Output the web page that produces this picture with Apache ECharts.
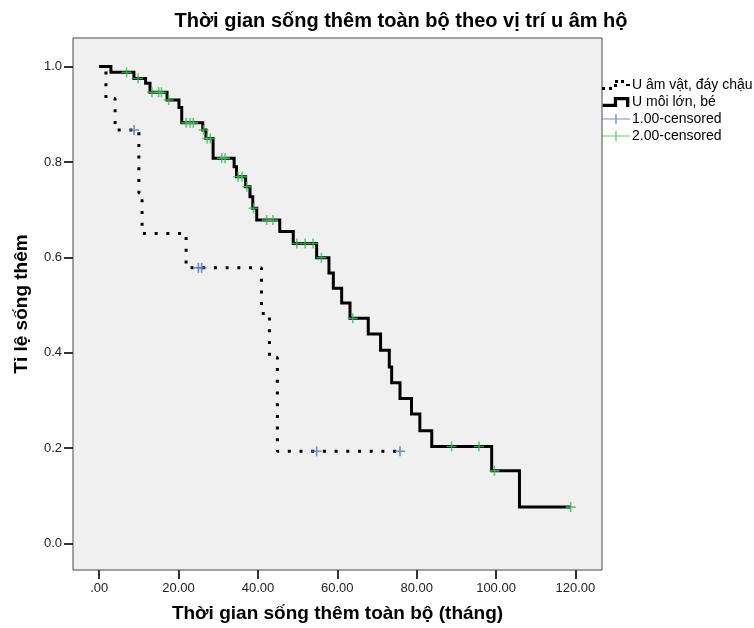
<!DOCTYPE html>
<html>
<head>
<meta charset="utf-8">
<title>Thời gian sống thêm toàn bộ theo vị trí u âm hộ</title>
<script src="https://cdn.jsdelivr.net/npm/echarts@6/dist/echarts.min.js"></script>
<style>
  html, body { margin: 0; padding: 0; background: #ffffff; }
  #chart { width: 754px; height: 628px; }
</style>
</head>
<body>
<div id="chart"></div>
<script>
// Kaplan–Meier curves: each entry is the time of a drop and the survival level after it.
const group1Name = 'U âm vật, đáy chậu';
const group1Times = [0, 1.7, 4.0, 10.0, 10.8, 21.9, 40.9, 42.9, 44.9, 75.8];
const group1Surv  = [1.0, 0.933, 0.867, 0.735, 0.650, 0.578, 0.482, 0.39, 0.193, 0.193];
const group1Censored = [8.8, 25.0, 25.8, 54.8, 75.8];

const group2Name = 'U môi lớn, bé';
const group2Times = [0, 2.95, 8.75, 11.7, 12.8, 17.1, 20.1, 20.8, 26.1, 26.9, 28.7, 34.0, 34.6,
  36.9, 38.0, 38.7, 39.7, 45.5, 48.9, 54.8, 57.9, 59.0, 61.1, 63.2, 67.8, 70.9, 73.1, 73.7,
  75.8, 78.7, 80.8, 83.8, 98.9, 105.9, 118.8];
const group2Surv  = [1.0, 0.988, 0.975, 0.965, 0.946, 0.930, 0.914, 0.882, 0.867, 0.849, 0.808, 0.790, 0.769,
  0.748, 0.727, 0.703, 0.678, 0.654, 0.629, 0.599, 0.567, 0.535, 0.504, 0.472, 0.439, 0.405, 0.370, 0.337,
  0.304, 0.271, 0.236, 0.203, 0.152, 0.076, 0.076];
const group2Censored = [6.9, 9.8, 13.3, 15.0, 15.7, 17.5, 21.9, 22.9, 23.7, 26.3, 27.2, 28.0, 30.9, 31.7,
  35.0, 36.0, 37.2, 38.9, 42.2, 43.8, 49.8, 51.9, 53.9, 56.0, 63.9, 88.8, 95.7, 99.6, 118.8];

const censor1Name = '1.00-censored';
const censor2Name = '2.00-censored';

const xTickValues = [0, 20, 40, 60, 80, 100, 120];
const xTickLabels = ['.00', '20.00', '40.00', '60.00', '80.00', '100.00', '120.00'];
const yTickValues = [0, 0.2, 0.4, 0.6, 0.8, 1.0];
const yTickLabels = ['0.0', '0.2', '0.4', '0.6', '0.8', '1.0'];

const FONT = '"Liberation Sans", Arial, sans-serif';

function pairs(times, vals) {
  return times.map((t, i) => [t, vals[i]]);
}
// survival level of a step curve at time t (censor marks sit on their curve)
function levelAt(times, vals, t) {
  let v = vals[0];
  for (let i = 0; i < times.length; i++) {
    if (times[i] <= t) v = vals[i];
  }
  return v;
}
function censorPoints(ct, times, vals) {
  return ct.map(t => [t, levelAt(times, vals, t)]);
}
function labelFor(values, labels) {
  return v => {
    for (let i = 0; i < values.length; i++) {
      if (Math.abs(values[i] - v) < 1e-9) return labels[i];
    }
    return '';
  };
}

const plusSymbol = 'path://M4.2,0h1.6v4.2h4.2v1.6h-4.2v4.2h-1.6v-4.2h-4.2v-1.6h4.2z';
const iconDotted = 'path://M0,7h3v3h-3z M7,7h3v3h-3z M12,4h3v3h-3z M13,0h3v3h-3z M19,0h3v3h-3z M24,4h4v2h-4z';
const iconSolid = 'path://M0,6H10V0H24V9H21V3H13V9H0Z';
const iconCensor = 'path://M0,4.4H13.3V0H14.7V4.4H28V5.6H14.7V10H13.3V5.6H0Z';

const chart = echarts.init(document.getElementById('chart'), null, { renderer: 'canvas' });

chart.setOption({
  animation: false,
  backgroundColor: '#ffffff',
  title: {
    text: 'Thời gian sống thêm toàn bộ theo vị trí u âm hộ',
    left: 401,
    top: 11,
    textAlign: 'center',
    padding: 0,
    textStyle: { fontFamily: FONT, fontSize: 20, fontWeight: 'bold', color: '#000' }
  },
  legend: {
    orient: 'vertical',
    left: 602,
    top: 78,
    padding: 0,
    itemGap: 3,
    itemWidth: 28,
    itemHeight: 10,
    selectedMode: false,
    textStyle: { fontFamily: FONT, fontSize: 14, color: '#000', padding: [0, 0, 0, -3] },
    data: [
      { name: group1Name, icon: iconDotted },
      { name: group2Name, icon: iconSolid },
      { name: censor1Name, icon: iconCensor },
      { name: censor2Name, icon: iconCensor }
    ]
  },
  grid: {
    left: 73,
    top: 38,
    width: 529,
    height: 532,
    show: true,
    backgroundColor: '#f0f0f0',
    borderColor: '#4a4a4a',
    borderWidth: 1
  },
  xAxis: {
    type: 'value',
    min: -6.6,
    max: 126.7,
    name: 'Thời gian sống thêm toàn bộ (tháng)',
    nameLocation: 'middle',
    nameGap: 34,
    nameTextStyle: { fontFamily: FONT, fontSize: 19, fontWeight: 'bold', color: '#000' },
    axisLine: { show: false, onZero: false },
    splitLine: { show: false },
    axisTick: {
      show: true, inside: false, length: 9,
      customValues: xTickValues,
      lineStyle: { color: '#333', width: 2 }
    },
    axisLabel: {
      customValues: xTickValues,
      formatter: labelFor(xTickValues, xTickLabels),
      margin: 12,
      fontFamily: FONT, fontSize: 13, color: '#222'
    }
  },
  yAxis: {
    type: 'value',
    min: -0.056,
    max: 1.06,
    name: 'Tỉ lệ sống thêm',
    nameLocation: 'middle',
    nameGap: 42,
    nameTextStyle: { fontFamily: FONT, fontSize: 19, fontWeight: 'bold', color: '#000' },
    axisLine: { show: false, onZero: false },
    splitLine: { show: false },
    axisTick: {
      show: true, inside: false, length: 9,
      customValues: yTickValues,
      lineStyle: { color: '#333', width: 2 }
    },
    axisLabel: {
      customValues: yTickValues,
      formatter: labelFor(yTickValues, yTickLabels),
      margin: 11,
      fontFamily: FONT, fontSize: 13, color: '#222'
    }
  },
  series: [
    {
      name: group1Name,
      type: 'line',
      step: 'end',
      data: pairs(group1Times, group1Surv),
      showSymbol: false,
      color: '#000',
      lineStyle: { color: '#000', width: 3, type: [3, 8.7], cap: 'butt' },
      z: 2
    },
    {
      name: group2Name,
      type: 'line',
      step: 'end',
      data: pairs(group2Times, group2Surv),
      showSymbol: false,
      color: '#000',
      lineStyle: { color: '#000', width: 3, type: 'solid', join: 'miter' },
      z: 3
    },
    {
      name: censor1Name,
      type: 'scatter',
      data: censorPoints(group1Censored, group1Times, group1Surv),
      symbol: plusSymbol,
      symbolSize: 10,
      color: '#5470c6',
      itemStyle: { color: '#5470c6' },
      z: 5
    },
    {
      name: censor2Name,
      type: 'scatter',
      data: censorPoints(group2Censored, group2Times, group2Surv),
      symbol: plusSymbol,
      symbolSize: 10,
      color: '#3fbf52',
      itemStyle: { color: '#3fbf52' },
      z: 5
    }
  ]
});
</script>
</body>
</html>
